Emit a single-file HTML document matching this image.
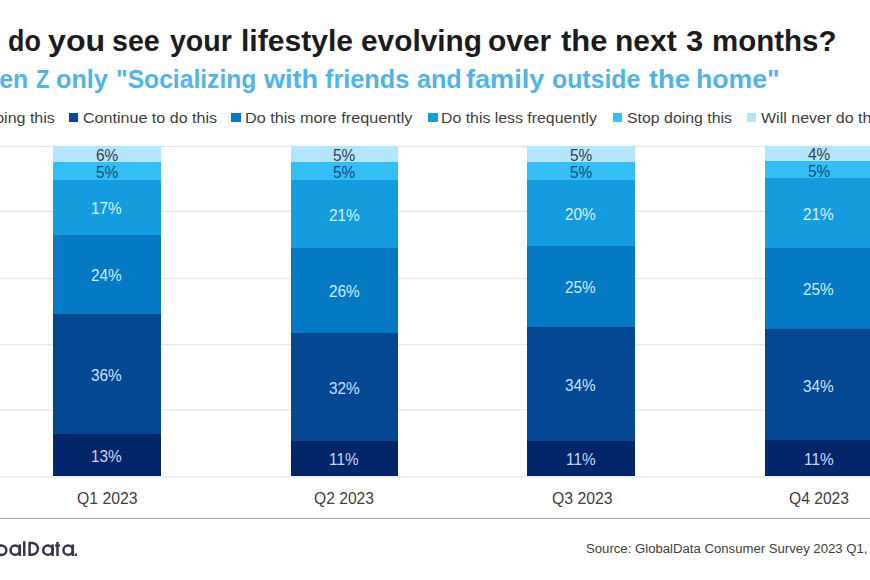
<!DOCTYPE html>
<html><head><meta charset="utf-8"><style>
html,body{margin:0;padding:0;background:#fff;}
body{width:870px;height:580px;overflow:hidden;position:relative;font-family:"Liberation Sans",sans-serif;}
.t{position:absolute;white-space:nowrap;line-height:1;transform-origin:0 0;}
.g{position:absolute;left:0;width:870px;height:1px;background:#e8e8e8;}
.b{position:absolute;}
.m{position:absolute;top:112.8px;width:9.3px;height:9.4px;}
.sep{position:absolute;left:0;top:517.8px;width:870px;height:1.2px;background:#a3a3a3;}
</style></head><body>
<div class="t" style="left:8.26px;top:25.90px;font-size:30px;font-weight:bold;color:#1c1c1c;transform:scaleX(0.8954)">do</div>
<div class="t" style="left:48.30px;top:25.90px;font-size:30px;font-weight:bold;color:#1c1c1c;transform:scaleX(1.0717)">you</div>
<div class="t" style="left:111.90px;top:25.90px;font-size:30px;font-weight:bold;color:#1c1c1c;transform:scaleX(0.9552)">see</div>
<div class="t" style="left:169.90px;top:25.90px;font-size:30px;font-weight:bold;color:#1c1c1c;transform:scaleX(0.9507)">your</div>
<div class="t" style="left:240.62px;top:25.90px;font-size:30px;font-weight:bold;color:#1c1c1c;transform:scaleX(1.0027)">lifestyle</div>
<div class="t" style="left:360.77px;top:25.90px;font-size:30px;font-weight:bold;color:#1c1c1c;transform:scaleX(0.9946)">evolving</div>
<div class="t" style="left:487.97px;top:25.90px;font-size:30px;font-weight:bold;color:#1c1c1c;transform:scaleX(0.9967)">over</div>
<div class="t" style="left:560.90px;top:25.90px;font-size:30px;font-weight:bold;color:#1c1c1c;transform:scaleX(1.0327)">the</div>
<div class="t" style="left:614.63px;top:25.90px;font-size:30px;font-weight:bold;color:#1c1c1c;transform:scaleX(0.9989)">next</div>
<div class="t" style="left:686.32px;top:25.90px;font-size:30px;font-weight:bold;color:#1c1c1c;transform:scaleX(1.0279)">3</div>
<div class="t" style="left:711.56px;top:25.90px;font-size:30px;font-weight:bold;color:#1c1c1c;transform:scaleX(0.9820)">months?</div>
<div class="t" style="left:35.70px;top:66.91px;font-size:25.5px;font-weight:bold;color:#4fb5e6;transform:scaleX(0.8521)">Z</div>
<div class="t" style="left:55.81px;top:66.91px;font-size:25.5px;font-weight:bold;color:#4fb5e6;transform:scaleX(0.9876)">only</div>
<div class="t" style="left:115.85px;top:66.91px;font-size:25.5px;font-weight:bold;color:#4fb5e6;transform:scaleX(0.9662)">"Socializing</div>
<div class="t" style="left:264.31px;top:66.91px;font-size:25.5px;font-weight:bold;color:#4fb5e6;transform:scaleX(1.0604)">with</div>
<div class="t" style="left:324.50px;top:66.91px;font-size:25.5px;font-weight:bold;color:#4fb5e6;transform:scaleX(0.9900)">friends</div>
<div class="t" style="left:416.51px;top:66.91px;font-size:25.5px;font-weight:bold;color:#4fb5e6;transform:scaleX(0.9870)">and</div>
<div class="t" style="left:466.27px;top:66.91px;font-size:25.5px;font-weight:bold;color:#4fb5e6;transform:scaleX(1.0626)">family</div>
<div class="t" style="left:551.72px;top:66.91px;font-size:25.5px;font-weight:bold;color:#4fb5e6;transform:scaleX(0.9743)">outside</div>
<div class="t" style="left:649.08px;top:66.91px;font-size:25.5px;font-weight:bold;color:#4fb5e6;transform:scaleX(1.0708)">the</div>
<div class="t" style="left:695.62px;top:66.91px;font-size:25.5px;font-weight:bold;color:#4fb5e6;transform:scaleX(1.0455)">home"</div>
<div class="t" style="left:-20.18px;top:66.91px;font-size:25.5px;font-weight:bold;color:#4fb5e6;transform:scaleX(0.9700)">Gen</div>
<div class="t" style="left:-52.34px;top:109.68px;font-size:15.5px;font-weight:normal;color:#404040;transform:scaleX(1.0330)">Start doing this</div>
<div class="t" style="left:82.67px;top:109.68px;font-size:15.5px;font-weight:normal;color:#404040;transform:scaleX(1.0375)">Continue to do this</div>
<div class="t" style="left:244.75px;top:109.68px;font-size:15.5px;font-weight:normal;color:#404040;transform:scaleX(1.0447)">Do this more frequently</div>
<div class="t" style="left:440.97px;top:109.68px;font-size:15.5px;font-weight:normal;color:#404040;transform:scaleX(1.0229)">Do this less frequently</div>
<div class="t" style="left:626.58px;top:109.68px;font-size:15.5px;font-weight:normal;color:#404040;transform:scaleX(1.0238)">Stop doing this</div>
<div class="t" style="left:760.80px;top:109.68px;font-size:15.5px;font-weight:normal;color:#404040;transform:scaleX(1.0330)">Will never do this</div>
<div class="t" style="left:77.01px;top:491.46px;font-size:16px;font-weight:normal;color:#404040;transform:scaleX(0.9853)">Q1 2023</div>
<div class="t" style="left:313.82px;top:491.46px;font-size:16px;font-weight:normal;color:#404040;transform:scaleX(0.9769)">Q2 2023</div>
<div class="t" style="left:551.71px;top:491.46px;font-size:16px;font-weight:normal;color:#404040;transform:scaleX(0.9853)">Q3 2023</div>
<div class="t" style="left:788.82px;top:491.46px;font-size:16px;font-weight:normal;color:#404040;transform:scaleX(0.9769)">Q4 2023</div>
<div class="t" style="left:586.02px;top:541.80px;font-size:13.7px;font-weight:normal;color:#404040;transform:scaleX(0.9610)">Source: GlobalData Consumer Survey 2023 Q1, Q2, Q3, Q4</div>
<svg style="position:absolute;left:0;top:0" width="870" height="580"><line x1="0" x2="870" y1="146.5" y2="146.5" stroke="#e7e7e7" stroke-width="1.3"/><line x1="0" x2="870" y1="211.4" y2="211.4" stroke="#e7e7e7" stroke-width="1.3"/><line x1="0" x2="870" y1="278.5" y2="278.5" stroke="#e7e7e7" stroke-width="1.3"/><line x1="0" x2="870" y1="344.7" y2="344.7" stroke="#e7e7e7" stroke-width="1.3"/><line x1="0" x2="870" y1="409.9" y2="409.9" stroke="#e7e7e7" stroke-width="1.3"/><line x1="0" x2="870" y1="476.8" y2="476.8" stroke="#e7e7e7" stroke-width="1.3"/></svg>
<div class="b" style="left:53px;width:107.5px;top:146.1px;height:329.5px;background:#b3e6fb"></div>
<div class="b" style="left:53px;width:107.5px;top:162.4px;height:313.2px;background:#35bef6"></div>
<div class="b" style="left:53px;width:107.5px;top:179.7px;height:295.9px;background:#139cde"></div>
<div class="b" style="left:53px;width:107.5px;top:234.5px;height:241.1px;background:#0579c3"></div>
<div class="b" style="left:53px;width:107.5px;top:314.1px;height:161.5px;background:#044894"></div>
<div class="b" style="left:53px;width:107.5px;top:434px;height:41.6px;background:#03266a"></div>
<div class="b" style="left:290.5px;width:107.5px;top:146.1px;height:329.5px;background:#b3e6fb"></div>
<div class="b" style="left:290.5px;width:107.5px;top:162.4px;height:313.2px;background:#35bef6"></div>
<div class="b" style="left:290.5px;width:107.5px;top:180px;height:295.6px;background:#139cde"></div>
<div class="b" style="left:290.5px;width:107.5px;top:248.2px;height:227.4px;background:#0579c3"></div>
<div class="b" style="left:290.5px;width:107.5px;top:332.8px;height:142.8px;background:#044894"></div>
<div class="b" style="left:290.5px;width:107.5px;top:441px;height:34.6px;background:#03266a"></div>
<div class="b" style="left:527px;width:107.5px;top:146.1px;height:329.5px;background:#b3e6fb"></div>
<div class="b" style="left:527px;width:107.5px;top:162.4px;height:313.2px;background:#35bef6"></div>
<div class="b" style="left:527px;width:107.5px;top:179.7px;height:295.9px;background:#139cde"></div>
<div class="b" style="left:527px;width:107.5px;top:245.5px;height:230.1px;background:#0579c3"></div>
<div class="b" style="left:527px;width:107.5px;top:327.2px;height:148.4px;background:#044894"></div>
<div class="b" style="left:527px;width:107.5px;top:440.6px;height:35.0px;background:#03266a"></div>
<div class="b" style="left:765px;width:107.5px;top:146.1px;height:329.5px;background:#b3e6fb"></div>
<div class="b" style="left:765px;width:107.5px;top:161px;height:314.6px;background:#35bef6"></div>
<div class="b" style="left:765px;width:107.5px;top:178.3px;height:297.3px;background:#139cde"></div>
<div class="b" style="left:765px;width:107.5px;top:247.6px;height:228.0px;background:#0579c3"></div>
<div class="b" style="left:765px;width:107.5px;top:328.9px;height:146.7px;background:#044894"></div>
<div class="b" style="left:765px;width:107.5px;top:440.4px;height:35.2px;background:#03266a"></div>
<div class="t" style="left:95.52px;top:148.16px;font-size:16px;color:#34414b;transform:scaleX(0.96)">6%</div>
<div class="t" style="left:95.61px;top:164.96px;font-size:16px;color:#0b4f80;transform:scaleX(0.96)">5%</div>
<div class="t" style="left:91.06px;top:201.01px;font-size:16px;color:#d8f0ff;transform:scaleX(0.96)">17%</div>
<div class="t" style="left:91.25px;top:268.26px;font-size:16px;color:#d0ebff;transform:scaleX(0.96)">24%</div>
<div class="t" style="left:91.34px;top:367.96px;font-size:16px;color:#c8e2fb;transform:scaleX(0.96)">36%</div>
<div class="t" style="left:91.06px;top:448.71px;font-size:16px;color:#c4d8f8;transform:scaleX(0.96)">13%</div>
<div class="t" style="left:333.11px;top:148.16px;font-size:16px;color:#34414b;transform:scaleX(0.96)">5%</div>
<div class="t" style="left:333.11px;top:165.11px;font-size:16px;color:#0b4f80;transform:scaleX(0.96)">5%</div>
<div class="t" style="left:328.75px;top:208.06px;font-size:16px;color:#d8f0ff;transform:scaleX(0.96)">21%</div>
<div class="t" style="left:328.75px;top:284.46px;font-size:16px;color:#d0ebff;transform:scaleX(0.96)">26%</div>
<div class="t" style="left:328.84px;top:380.86px;font-size:16px;color:#c8e2fb;transform:scaleX(0.96)">32%</div>
<div class="t" style="left:329.13px;top:452.21px;font-size:16px;color:#c4d8f8;transform:scaleX(0.96)">11%</div>
<div class="t" style="left:569.61px;top:148.16px;font-size:16px;color:#34414b;transform:scaleX(0.96)">5%</div>
<div class="t" style="left:569.61px;top:164.96px;font-size:16px;color:#0b4f80;transform:scaleX(0.96)">5%</div>
<div class="t" style="left:565.25px;top:206.56px;font-size:16px;color:#d8f0ff;transform:scaleX(0.96)">20%</div>
<div class="t" style="left:565.25px;top:280.31px;font-size:16px;color:#d0ebff;transform:scaleX(0.96)">25%</div>
<div class="t" style="left:565.34px;top:377.81px;font-size:16px;color:#c8e2fb;transform:scaleX(0.96)">34%</div>
<div class="t" style="left:565.63px;top:452.01px;font-size:16px;color:#c4d8f8;transform:scaleX(0.96)">11%</div>
<div class="t" style="left:807.76px;top:147.46px;font-size:16px;color:#34414b;transform:scaleX(0.96)">4%</div>
<div class="t" style="left:807.61px;top:163.56px;font-size:16px;color:#0b4f80;transform:scaleX(0.96)">5%</div>
<div class="t" style="left:803.25px;top:206.91px;font-size:16px;color:#d8f0ff;transform:scaleX(0.96)">21%</div>
<div class="t" style="left:803.25px;top:282.21px;font-size:16px;color:#d0ebff;transform:scaleX(0.96)">25%</div>
<div class="t" style="left:803.34px;top:378.56px;font-size:16px;color:#c8e2fb;transform:scaleX(0.96)">34%</div>
<div class="t" style="left:803.63px;top:451.91px;font-size:16px;color:#c4d8f8;transform:scaleX(0.96)">11%</div>
<div class="m" style="left:69px;background:#044894"></div>
<div class="m" style="left:231.4px;background:#0579c3"></div>
<div class="m" style="left:428.3px;background:#139cde"></div>
<div class="m" style="left:613px;background:#35bef6"></div>
<div class="m" style="left:746.5px;background:#b3e6fb"></div>
<div class="sep"></div>
<svg style="position:absolute;left:0;top:0" width="90" height="580" viewBox="0 0 90 580" fill="none" stroke="#38364f" stroke-width="2.5">
<circle cx="1.55" cy="550.15" r="4.75"/>
<circle cx="15.15" cy="550.15" r="4.65"/><line x1="19.8" y1="544.4" x2="19.8" y2="556"/>
<line x1="24.25" y1="541.3" x2="24.25" y2="556"/>
<path d="M29.6 542.9H32.1A5.9 5.9 0 0 1 32.1 554.7H29.6Z"/>
<circle cx="47.9" cy="550.15" r="4.7"/><line x1="52.6" y1="544.4" x2="52.6" y2="556"/>
<line x1="57.5" y1="542" x2="57.5" y2="556"/><line x1="55" y1="545.5" x2="60" y2="545.5" stroke-width="2"/>
<circle cx="68.1" cy="550.15" r="4.7"/><line x1="72.8" y1="544.4" x2="72.8" y2="556"/>
<rect x="74.7" y="553.6" width="2.3" height="2.4" fill="#38364f" stroke="none"/>
</svg>
</body></html>
